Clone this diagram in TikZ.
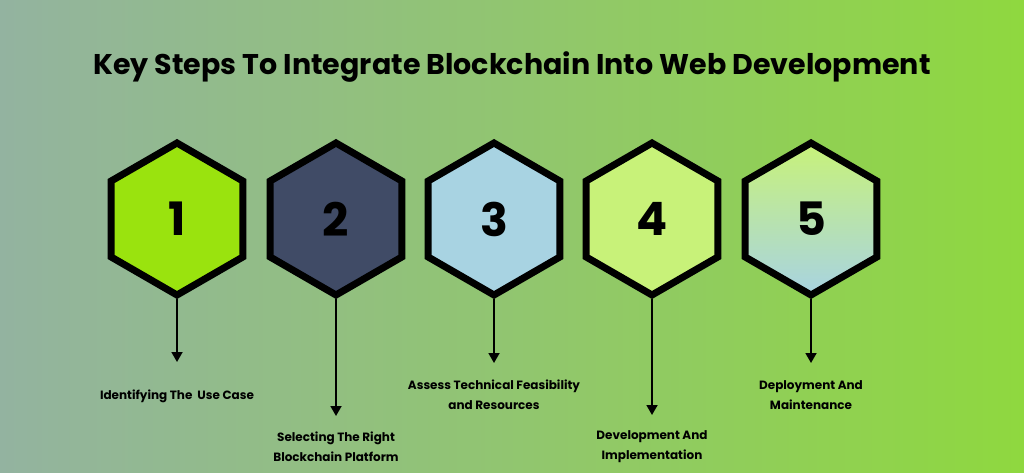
\documentclass[tikz,border=0pt]{standalone}
\usepackage{fontspec}
\setmainfont{Poppins}
\usetikzlibrary{shapes.geometric,arrows.meta}
\definecolor{bgleft}{HTML}{93B3A0}
\definecolor{bgright}{HTML}{8FD83F}
\definecolor{hexlime}{HTML}{9AE30E}
\definecolor{hexslate}{HTML}{404B66}
\definecolor{hexblue}{HTML}{A8D3E2}
\definecolor{hexgreen}{HTML}{C8F279}
\begin{document}
\begin{tikzpicture}
	[x=1pt,y=-1pt,
	%Styles
	hexstep/.style={regular polygon,regular polygon sides=6,shape border rotate=30,
		minimum size=152pt,line width=7pt,draw=black,inner sep=0pt,
		font=\fontsize{46}{46}\bfseries},
	steparrow/.style={-{Triangle[length=10pt,width=11pt]},line width=1.8pt},
	steplabel/.style={font=\fontsize{12}{20}\bfseries,align=center}
	]
	
	%Background
	\shade[left color=bgleft,right color=bgright] (0,0) rectangle (1024,473);
	\useasboundingbox (0,0) rectangle (1024,473);
	
	%Title
	\node[font=\fontsize{28.5}{28.5}\bfseries] (title) at (512,67) {Key Steps To Integrate Blockchain Into Web Development};
	
	%Hexagons
	\node[hexstep,fill=hexlime] (h1) at (177,219) {1};
	\node[hexstep,fill=hexslate] (h2) at (336,219) {2};
	\node[hexstep,fill=hexblue] (h3) at (494,219) {3};
	\node[hexstep,fill=hexgreen] (h4) at (652,219) {4};
	\node[hexstep,top color=hexgreen,bottom color=hexblue,draw=black] (h5) at (811,219) {5};
	
	%Arrow ends
	\coordinate (e1) at (177,362);
	\coordinate (e2) at (336,416);
	\coordinate (e3) at (494,363);
	\coordinate (e4) at (652,415);
	\coordinate (e5) at (811,363);
	
	\foreach \i in {1,...,5}
		\draw[steparrow] (h\i.south) -- (e\i);
	
	%Labels
	\node[steplabel] (l1) at (177,396) {Identifying The~ Use Case};
	\node[steplabel] (l2) at (336,447) {Selecting The Right\\Blockchain Platform};
	\node[steplabel] (l3) at (494,395) {Assess Technical Feasibility\\and Resources};
	\node[steplabel] (l4) at (652,447) {Development And\\Implementation};
	\node[steplabel] (l5) at (811,395) {Deployment And\\Maintenance};
\end{tikzpicture}
\end{document}
